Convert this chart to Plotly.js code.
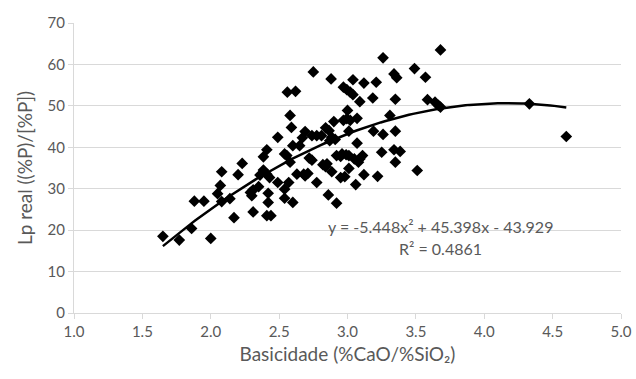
<!DOCTYPE html>
<html>
<head>
<meta charset="utf-8">
<script src="https://cdn.plot.ly/plotly-3.0.1.min.js"></script>
<style>html,body{margin:0;padding:0;background:#fff;}#chart{width:636px;height:379px;}</style>
</head>
<body>
<div id="chart"></div>
<script>
// Basicity (%CaO/%SiO2)
const basicity = [
  1.65,1.77,1.86,2.00,1.88,1.95,2.05,2.07,2.08,2.08,
  2.14,2.17,2.20,2.23,2.29,2.31,2.30,2.31,2.35,2.36,
  2.385,2.41,2.43,2.385,2.41,2.42,2.42,2.41,2.44,2.49,
  2.54,2.57,2.54,2.60,2.54,2.556,2.49,2.58,2.63,2.68,
  2.60,2.65,2.56,2.62,2.58,2.59,2.69,2.67,2.74,2.775,
  2.81,2.84,2.75,2.72,2.74,2.82,2.84,2.71,2.69,2.775,
  2.86,2.92,3.26,2.88,3.04,3.12,3.21,3.34,3.36,2.97,
  2.995,3.02,3.04,3.09,3.185,3.35,3.00,2.90,2.97,2.995,
  3.02,3.07,3.31,3.19,3.26,3.35,2.865,2.885,2.91,2.87,
  3.01,3.07,2.92,2.95,2.96,2.99,3.01,3.05,3.08,3.09,
  3.11,3.25,3.34,3.35,2.85,2.885,2.95,2.98,3.01,3.06,
  3.12,3.22,3.68,3.49,3.57,3.585,3.64,3.665,3.68,3.385,
  3.51,4.33,4.60
];
// Lp real ((%P)/[%P])
const lpReal = [
  18.5,17.6,20.4,18.0,27.0,27.0,28.8,30.8,34.1,26.9,
  27.6,23.0,33.4,36.1,29.1,29.7,28.3,24.4,30.5,33.3,
  34.5,33.5,32.7,37.7,39.4,28.9,26.7,23.5,23.5,31.5,
  29.9,31.5,27.7,26.7,38.4,38.0,42.4,36.4,33.5,33.5,
  40.4,40.4,53.3,53.5,47.7,44.8,43.8,42.3,42.8,42.8,
  42.8,44.7,58.2,37.4,36.9,35.8,35.3,33.7,33.1,31.5,
  28.5,26.5,61.6,56.5,56.3,55.5,55.7,57.7,56.8,54.5,
  53.9,53.3,52.7,51.0,51.9,51.6,48.9,46.2,46.5,46.9,
  46.5,47.0,47.7,43.9,43.1,43.9,44.0,42.4,41.9,41.6,
  43.9,41.0,38.0,37.8,38.4,38.2,38.0,37.2,36.4,37.2,
  38.0,38.8,39.4,36.4,36.0,34.1,32.7,32.9,34.9,31.0,
  33.4,33.0,63.5,59.0,56.9,51.5,50.9,50.1,49.7,39.0,
  34.4,50.5,42.6
];
// Polynomial trendline coefficients (from the chart's label)
const coefA = -5.448, coefB = 45.398, coefC = -43.929;
const eqText = "y = -5.448x² + 45.398x - 43.929";
const r2Text = "R² = 0.4861";
const xTickVals = [1.0,1.5,2.0,2.5,3.0,3.5,4.0,4.5,5.0];
const yTickVals = [0,10,20,30,40,50,60,70];

const xmin = Math.min(...basicity), xmax = Math.max(...basicity);
const fitX = [], fitY = [];
for (let i = 0; i <= 100; i++) {
  const x = xmin + (xmax - xmin) * i / 100;
  fitX.push(x);
  fitY.push(coefA * x * x + coefB * x + coefC);
}

const font = "Lato, Open Sans, sans-serif";
const grey = "#595959";

const traces = [
  {x: basicity, y: lpReal, type: "scatter", mode: "markers",
   marker: {symbol: "diamond", size: 9, color: "#000"}, hoverinfo: "x+y"},
  {x: fitX, y: fitY, type: "scatter", mode: "lines",
   line: {color: "#000", width: 2.5}, hoverinfo: "skip"}
];

const layout = {
  width: 636, height: 379,
  margin: {l: 74, r: 15, t: 23, b: 66},
  paper_bgcolor: "#fff", plot_bgcolor: "#fff",
  showlegend: false,
  font: {family: font, color: grey, size: 15},
  xaxis: {
    range: [1, 5], tickvals: xTickVals, tickformat: ".1f",
    showgrid: false, zeroline: false,
    showline: true, linecolor: "#d9d9d9", linewidth: 1,
    ticks: "outside", ticklen: 5, tickcolor: "#d9d9d9",
    tickfont: {size: 15, color: grey, family: font},
    title: {text: "Basicidade (%CaO/%SiO₂)", font: {size: 19, color: grey, family: font}, standoff: 8}
  },
  yaxis: {
    range: [0, 70], tickvals: yTickVals,
    showgrid: true, gridcolor: "#d9d9d9", gridwidth: 1, zeroline: false,
    showline: true, linecolor: "#d9d9d9", linewidth: 1,
    ticks: "outside", ticklen: 5, tickcolor: "#d9d9d9",
    tickfont: {size: 15, color: grey, family: font},
    title: {text: "Lp real ((%P)/[%P])", font: {size: 19, color: grey, family: font}, standoff: 9}
  },
  annotations: [
    {x: 3.68, y: 20.9, xref: "x", yref: "y", text: eqText, showarrow: false,
     font: {size: 16, color: grey, family: font}},
    {x: 3.68, y: 15.5, xref: "x", yref: "y", text: r2Text, showarrow: false,
     font: {size: 16, color: grey, family: font}}
  ]
};

Plotly.newPlot("chart", traces, layout, {displayModeBar: false, staticPlot: true});
</script>
</body>
</html>
